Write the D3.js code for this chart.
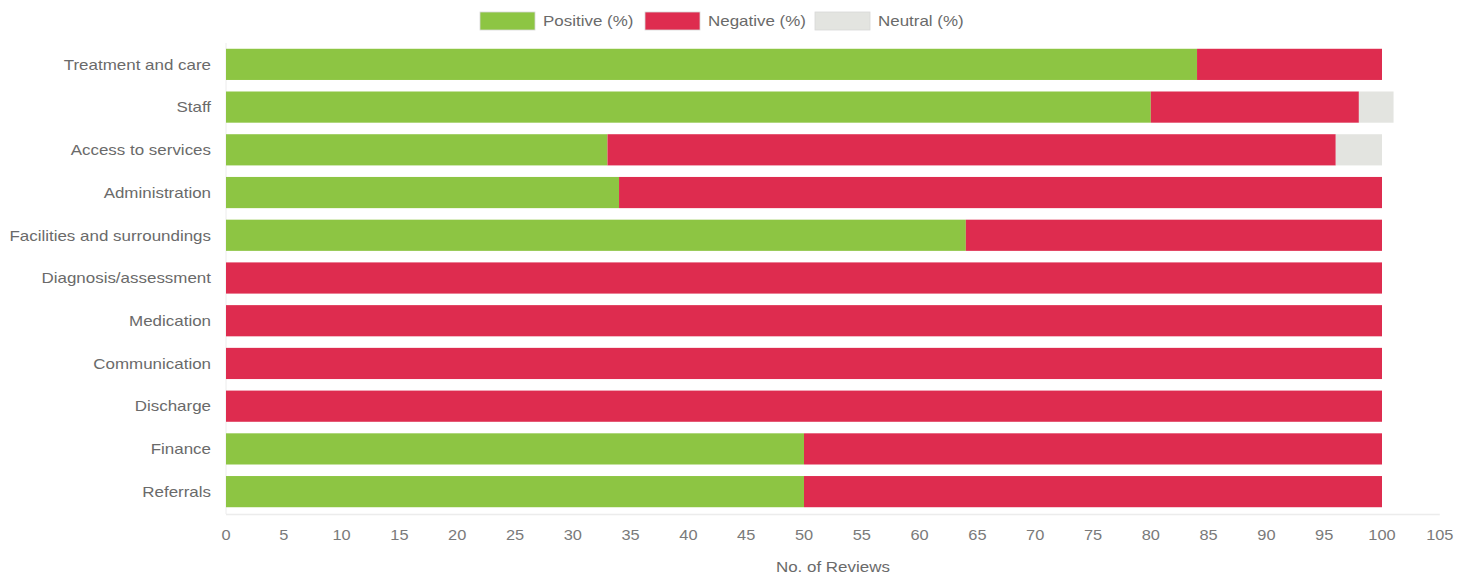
<!DOCTYPE html>
<html>
<head>
<meta charset="utf-8">
<script src="https://cdn.jsdelivr.net/npm/d3@7/dist/d3.min.js"></script>
<style>
  html, body { margin: 0; padding: 0; background: #fff; }
  svg { display: block; font-family: "Liberation Sans", Arial, sans-serif; }
</style>
</head>
<body>
<svg id="chart" width="1473" height="581"></svg>
<script>
// Review topics and sentiment shares (%)
const categories = ["Treatment and care", "Staff", "Access to services", "Administration",
  "Facilities and surroundings", "Diagnosis/assessment", "Medication", "Communication",
  "Discharge", "Finance", "Referrals"];
const positive = [84, 80, 33, 34, 64, 0, 0, 0, 0, 50, 50];
const negative = [16, 18, 63, 66, 36, 100, 100, 100, 100, 50, 50];
const neutral  = [0, 3, 4, 0, 0, 0, 0, 0, 0, 0, 0];
const seriesNames = ["Positive (%)", "Negative (%)", "Neutral (%)"];
const seriesColors = ["#8dc543", "#de2c4f", "#e3e4e0"];
const xTicks = d3.range(0, 106, 5);

const svg = d3.select("#chart");
const textStretch = 1.13; // labels are set slightly wide
const textColor = "#6a6a6a";

const x = d3.scaleLinear().domain([0, 105]).range([226, 226 + 1156 * 1.05]);
const y = d3.scaleBand().domain(categories).range([43, 513]).paddingInner(0.27).paddingOuter(0.135);

const rows = categories.map((c, i) => ({ cat: c, values: [positive[i], negative[i], neutral[i]] }));
const stack = d3.stack().keys([0, 1, 2]).value((d, k) => d.values[k]);
const layers = stack(rows);

// axis lines
svg.append("line").attr("x1", x(0)).attr("x2", x(0)).attr("y1", 43).attr("y2", 514)
  .attr("stroke", "#ececec").attr("stroke-width", 1);
svg.append("line").attr("x1", x(0)).attr("x2", x(105)).attr("y1", 514.5).attr("y2", 514.5)
  .attr("stroke", "#ececec").attr("stroke-width", 1.5);

// stacked bars
svg.append("g").selectAll("g").data(layers).join("g")
  .attr("fill", (d, i) => seriesColors[i])
  .selectAll("rect").data(d => d).join("rect")
  .attr("x", d => x(d[0]))
  .attr("width", d => x(d[1]) - x(d[0]))
  .attr("y", d => y(d.data.cat))
  .attr("height", y.bandwidth());

const place = (px, py) => `translate(${px},${py}) scale(${textStretch},1)`;

// category labels
svg.append("g").selectAll("text").data(categories).join("text")
  .attr("transform", d => place(211, y(d) + y.bandwidth() / 2))
  .attr("dy", "0.35em").attr("text-anchor", "end")
  .attr("font-size", 15).attr("fill", textColor)
  .text(d => d);

// x tick labels
svg.append("g").selectAll("text").data(xTicks).join("text")
  .attr("transform", d => place(x(d), 535))
  .attr("dy", "0.35em").attr("text-anchor", "middle")
  .attr("font-size", 14.5).attr("fill", "#7a7a7a")
  .text(d => d);

// x axis title
svg.append("text").attr("transform", place((x(0) + x(105)) / 2, 567))
  .attr("dy", "0.35em").attr("text-anchor", "middle")
  .attr("font-size", 15).attr("fill", textColor).text("No. of Reviews");

// legend
const legendX = [480, 645, 815];
const lg = svg.append("g").selectAll("g").data(seriesNames).join("g")
  .attr("transform", (d, i) => `translate(${legendX[i]},12)`);
lg.append("rect").attr("width", 55).attr("height", 18)
  .attr("fill", (d, i) => seriesColors[i])
  .attr("stroke", "#d8d8d8").attr("stroke-width", 0.8);
lg.append("text").attr("transform", place(63, 9)).attr("dy", "0.35em")
  .attr("font-size", 15).attr("fill", textColor).text(d => d);
</script>
</body>
</html>
